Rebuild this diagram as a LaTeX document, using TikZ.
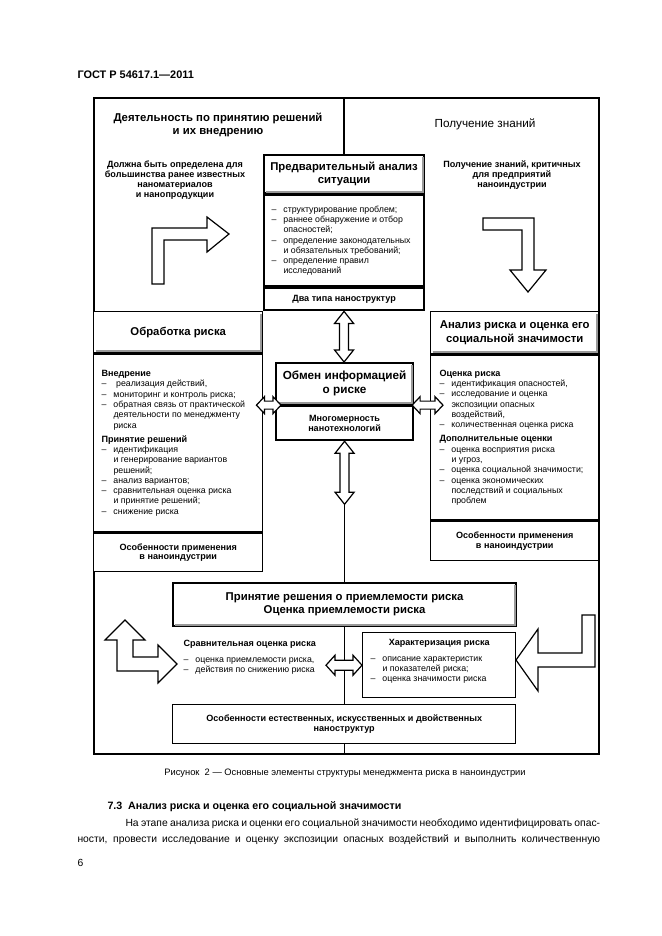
\documentclass[tikz,border=0pt]{standalone}
\usepackage{fontspec}
\setmainfont{Liberation Sans}
\usetikzlibrary{calc}
\tikzset{every picture/.style={line width=0.75pt}}
\newcommand{\ttlf}{\bfseries\fontsize{8.5pt}{9.8pt}\selectfont}
\newcommand{\bigf}{\bfseries\fontsize{8.8pt}{10.2pt}\selectfont}
\newcommand{\lblf}{\bfseries\fontsize{6.8pt}{7.4pt}\selectfont}
\newcommand{\lstf}{\fontsize{6.6pt}{7.7pt}\selectfont}
\newcommand{\capf}{\fontsize{7pt}{8pt}\selectfont}
\newcommand{\txtf}{\fontsize{7.75pt}{12pt}\selectfont}
\newcommand{\itm}{\makebox[9pt][l]{–}}
\newcommand{\cnt}{\hspace*{9pt}}
\tikzset{
  frame/.style={draw, line width=1.1pt, fill=white, inner sep=0pt, anchor=north west, align=center},
  heavy/.style={frame, line width=1.6pt},
  sz/.style 2 args={minimum width=#1*0.75pt, minimum height=#2*0.75pt},
  hollow/.style={draw, line width=0.9pt, fill=white, line join=miter},
  shd/.style={draw=black!40, line width=1.3pt},
  lbl/.style={inner sep=0.75pt, align=center, font=\lblf},
  lst/.style={inner sep=0.75pt, align=left, font=\lstf},
}
\newcommand{\shadeT}[1]{\draw[shd] ($(#1.south west)+(2.5,-2.5)$) -- ($(#1.south east)+(-2.5,-2.5)$) -- ($(#1.north east)+(-2.5,2.5)$);}
\newcommand{\vdbl}[5]{\draw[hollow] (#1) -- ($(#1)+(#4,#5)$) -- ($(#1)+(#3,#5)$) -- ($(#2)+(#3,-#5)$) -- ($(#2)+(#4,-#5)$) -- (#2) -- ($(#2)+(-#4,-#5)$) -- ($(#2)+(-#3,-#5)$) -- ($(#1)+(-#3,#5)$) -- ($(#1)+(-#4,#5)$) -- cycle;}
\newcommand{\hdbl}[5]{\draw[hollow] (#1) -- ($(#1)+(#5,-#4)$) -- ($(#1)+(#5,-#3)$) -- ($(#2)+(-#5,-#3)$) -- ($(#2)+(-#5,-#4)$) -- (#2) -- ($(#2)+(-#5,#4)$) -- ($(#2)+(-#5,#3)$) -- ($(#1)+(#5,#3)$) -- ($(#1)+(#5,#4)$) -- cycle;}

\begin{document}
\begin{tikzpicture}[x=0.75pt,y=0.75pt,yscale=-1,xscale=1]
\useasboundingbox (0,0) rectangle (661,936);
\node[anchor=base west, inner sep=0pt, font=\bfseries\fontsize{8.2pt}{10pt}\selectfont] (gost) at (77,78) {ГОСТ Р 54617.1—2011};

% frame
\node[frame, fill=none, line width=1.3pt, sz={505}{656}] (outer) at (93,97) {};

% block arrows
\draw[hollow] (152,284) -- (152,228) -- (207,228) -- (207,217) -- (229,234) -- (207,252) -- (207,240) -- (164,240) -- (164,284) -- cycle;
\draw[hollow] (483,218) -- (534,218) -- (534,270) -- (546,270) -- (528,292) -- (510,270) -- (522,270) -- (522,230) -- (483,230) -- cycle;
\draw[hollow] (125,620) -- (145,640) -- (133,640) -- (133,657) -- (158,657) -- (158,645) -- (177,664) -- (158,683) -- (158,671) -- (117,671) -- (117,640) -- (105,640) -- cycle;
\draw[hollow] (595,615) -- (595,667) -- (538,667) -- (538,691) -- (516,660) -- (538,629) -- (538,653) -- (582,653) -- (582,615) -- cycle;

% upper boxes
\node[heavy, sz={160}{38}, font=\ttlf] (prelimT) at (263,154) {Предварительный анализ\\ситуации};
\node[heavy, sz={160}{91}] (prelimL) at (prelimT.south west) {};
\node[heavy, sz={160}{22}, font=\lblf] (prelimB) at (prelimL.south west) {Два типа наноструктур};
\draw[line width=1.1pt] (prelimT.north |- outer.north) -- (prelimT.north);

\node[frame, sz={169}{41}, font=\ttlf] (obrT) at (93,311) {Обработка риска};
\node[frame, sz={169}{178}] (obrL) at (obrT.south west) {};
\node[frame, sz={169}{38}, font=\lblf] (obrB) at (obrL.south west) {Особенности применения\\в наноиндустрии};

\node[frame, sz={168}{42}, font=\ttlf] (analT) at (430,311) {Анализ риска и оценка его\\социальной значимости};
\node[frame, sz={168}{165}] (analL) at (analT.south west) {};
\node[frame, sz={168}{39}, font=\lblf] (analB) at (analL.south west) {Особенности применения\\в наноиндустрии};

\node[heavy, sz={137}{41}, font=\bigf] (obmenT) at (275,362) {Обмен информацией\\о риске};
\node[heavy, sz={137}{34}, font=\lblf] (obmenB) at (obmenT.south west) {Многомерность\\нанотехнологий};

% lower boxes
\coordinate (v2end) at ($(obmenB.south)+(0,63)$);
\draw[line width=1.1pt] (v2end) -- (v2end |- outer.south);
\node[heavy, sz={343}{43}, font=\ttlf] (prin) at (172,582) {Принятие решения о приемлемости риска\\Оценка приемлемости риска};
\node[frame, sz={153}{65}] (har) at (362,632) {};
\node[frame, sz={343}{39}, font=\lblf] (osob) at (172,704) {Особенности естественных, искусственных и двойственных\\наноструктур};

\shadeT{prelimT}
\shadeT{obrT}
\shadeT{analT}
\shadeT{obmenT}
\shadeT{prin}

% double arrows
\coordinate (v1a) at (prelimB.south);
\coordinate (v1b) at (prelimB.south |- obmenT.north);
\coordinate (v2a) at (obmenB.south);
\coordinate (h1a) at ($(obrL.east |- obmenB.north)+(-7,0)$);
\coordinate (h1b) at ($(obmenB.north west)+(6,0)$);
\coordinate (h2a) at ($(obmenB.north east)+(-2,0)$);
\coordinate (h2b) at ($(analL.west |- obmenB.north)+(13,0)$);
\coordinate (h3b) at (har.west);
\coordinate (h3a) at ($(har.west)+(-36,0)$);
\vdbl{v1a}{v1b}{4.5}{9.5}{12}
\vdbl{v2a}{v2end}{4.5}{9.5}{12}
\hdbl{h1a}{h1b}{4}{8.5}{8}
\hdbl{h2a}{h2b}{4}{8.5}{8}
\hdbl{h3a}{h3b}{5}{10}{9}

% texts
\node[font=\ttlf, align=center, inner sep=0.75pt] (deyat) at (218,125) {Деятельность по принятию решений\\и их внедрению};
\node[lbl] (dolzh) at (175,180) {Должна быть определена для\\большинства ранее известных\\наноматериалов\\и нанопродукции};
\node[font=\fontsize{8.8pt}{10pt}\selectfont, inner sep=0.75pt] (polz) at (485,124) {Получение знаний};
\node[lbl] (polzK) at (512,175) {Получение знаний, критичных\\для предприятий\\наноиндустрии};

\node[lst, anchor=west] (prelimTxt) at ($(prelimL.west)+(7,0)$) {\itm структурирование проблем;\\
\itm раннее обнаружение и отбор\\
\cnt опасностей;\\
\itm определение законодательных\\
\cnt и обязательных требований;\\
\itm определение правил\\
\cnt исследований};

\node[lst, anchor=west] (obrTxt) at ($(obrL.west)+(7,0)$) {{\lblf Внедрение}\\
\itm\hspace{2pt}реализация действий,\\
\itm мониторинг и контроль риска;\\
\itm обратная связь от практической\\
\cnt деятельности по менеджменту\\
\cnt риска\\[3pt]
{\lblf Принятие решений}\\
\itm идентификация\\
\cnt и генерирование вариантов\\
\cnt решений;\\
\itm анализ вариантов;\\
\itm сравнительная оценка риска\\
\cnt и принятие решений;\\
\itm снижение риска};

\node[lst, anchor=west] (analTxt) at ($(analL.west)+(8,0)$) {{\lblf Оценка риска}\\
\itm идентификация опасностей,\\
\itm исследование и оценка\\
\cnt экспозиции опасных\\
\cnt воздействий,\\
\itm количественная оценка риска\\[3pt]
{\lblf Дополнительные оценки}\\
\itm оценка восприятия риска\\
\cnt и угроз,\\
\itm оценка социальной значимости;\\
\itm оценка экономических\\
\cnt последствий и социальных\\
\cnt проблем};

\node[lst, anchor=north west] (sravn) at (182,639) {{\lblf Сравнительная оценка риска}\\[4pt]
\itm оценка приемлемости риска,\\
\itm действия по снижению риска};
\node[lbl] (harT) at ($(har.north)+(0,11)$) {Характеризация риска};
\node[lst, anchor=north west] (harTxt) at ($(har.north west)+(7,23)$) {\itm описание характеристик\\
\cnt и показателей риска;\\
\itm оценка значимости риска};

% caption and page text
\node[font=\capf, inner sep=0pt] (cap) at (345,773) {Рисунок\ \ 2 — Основные элементы структуры менеджмента риска в наноиндустрии};
\node[anchor=base west, inner sep=0pt, font=\bfseries\fontsize{8pt}{10pt}\selectfont] (sec) at (107,809) {7.3\ \ Анализ риска и оценка его социальной значимости};
\node[anchor=base west, inner sep=0pt, font=\txtf] (par1) at (125,826) {\makebox[356pt][s]{На этапе анализа риска и оценки его социальной значимости необходимо идентифицировать опас-}};
\node[anchor=base west, inner sep=0pt, font=\txtf] (par2) at (77,842) {\makebox[392pt][s]{ности, провести исследование и оценку экспозиции опасных воздействий и выполнить количественную}};
\node[anchor=base west, inner sep=0pt, font=\txtf] (pnum) at (77,866) {6};
\end{tikzpicture}
\end{document}
